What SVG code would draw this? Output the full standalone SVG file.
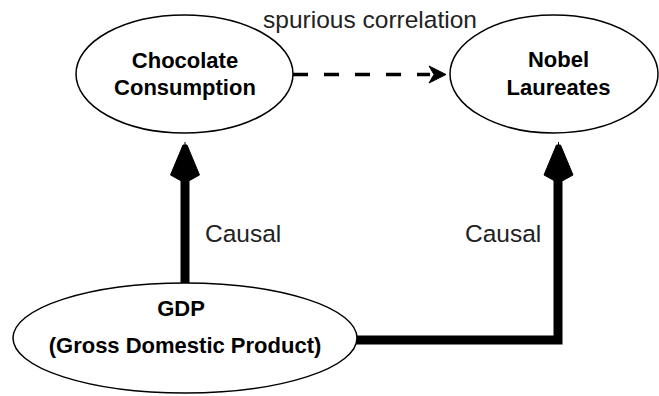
<svg xmlns="http://www.w3.org/2000/svg" width="659" height="396" viewBox="0 0 659 396">
<style>
.node{fill:#fff;stroke:#000;stroke-width:1.5}
.b{font-family:"Liberation Sans",Arial,sans-serif;font-weight:bold;font-size:22px;fill:#000;text-anchor:middle}
.r{font-family:"Liberation Sans",Arial,sans-serif;font-size:24.5px;fill:#222}
.thick{fill:none;stroke:#000;stroke-width:9;stroke-linejoin:miter}
.head{fill:#000;stroke:#000;stroke-width:1;stroke-linejoin:round}
</style>
<rect width="659" height="396" fill="#fff"/>
<g id="connectors">
  <line x1="293" y1="74.5" x2="430" y2="74.5" stroke="#000" stroke-width="3.5" stroke-dasharray="15,16"/>
  <path class="head" d="M446,74.5 L429,66 L434,74.5 L429,83 Z" stroke-width="3"/>
  <line x1="185" y1="178" x2="185" y2="284" stroke="#000" stroke-width="9"/>
  <polygon class="head" points="183,145 187,145 199.5,175 189.5,180.5 180.5,180.5 170.5,175"/>
  <line x1="185" y1="142" x2="185" y2="146" stroke="#000" stroke-width="1"/>
  <path class="thick" d="M355,340 H558 V178"/>
  <polygon class="head" points="556.5,145 560.5,145 573,175 563,180.5 554,180.5 544,175"/>
  <line x1="558.5" y1="142" x2="558.5" y2="146" stroke="#000" stroke-width="1"/>
  <text class="r" x="370" y="28" text-anchor="middle">spurious correlation</text>
  <text class="r" x="205" y="242">Causal</text>
  <text class="r" x="465" y="242">Causal</text>
</g>
<g id="chocolate">
  <ellipse class="node" cx="184.5" cy="74" rx="108.5" ry="59"/>
  <text class="b" x="185" y="68">Chocolate</text>
  <text class="b" x="185" y="95">Consumption</text>
</g>
<g id="nobel">
  <ellipse class="node" cx="554" cy="74" rx="104" ry="59"/>
  <text class="b" x="558.5" y="67">Nobel</text>
  <text class="b" x="558.5" y="95">Laureates</text>
</g>
<g id="gdp">
  <ellipse class="node" cx="185" cy="338" rx="172" ry="55"/>
  <text class="b" x="181" y="316">GDP</text>
  <text class="b" x="185" y="353">(Gross Domestic Product)</text>
</g>
</svg>
